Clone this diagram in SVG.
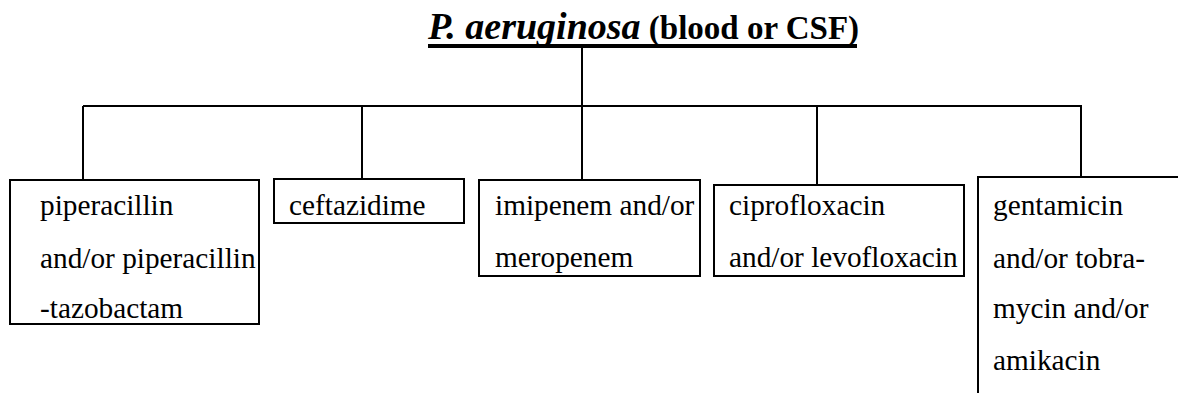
<svg xmlns="http://www.w3.org/2000/svg" width="1178" height="393" viewBox="0 0 1178 393">
<style>
.box{fill:none;stroke:#000;stroke-width:2}
.ln{fill:none;stroke:#000;stroke-width:2}
.t{font-family:"Liberation Serif","Times New Roman",serif;font-size:29.3px;fill:#000}
.ti{font-family:"Liberation Serif","Times New Roman",serif;font-weight:bold;fill:#000}
</style>
<rect width="1178" height="393" fill="#fff"/>
<g id="title">
<text class="ti" x="428" y="39"><tspan font-style="italic" font-size="38px">P. aeruginosa</tspan><tspan font-size="33px"> (blood or CSF)</tspan></text>
<line x1="428" y1="46" x2="857" y2="46" stroke="#000" stroke-width="4"/>
</g>
<g id="connectors">
<line class="ln" x1="582" y1="46" x2="582" y2="106"/>
<line class="ln" x1="83" y1="106" x2="1082" y2="106"/>
<line class="ln" x1="83" y1="106" x2="83" y2="180"/>
<line class="ln" x1="362" y1="106" x2="362" y2="179"/>
<line class="ln" x1="582" y1="106" x2="582" y2="180"/>
<line class="ln" x1="817" y1="106" x2="817" y2="185"/>
<line class="ln" x1="1081" y1="106" x2="1081" y2="177"/>
</g>
<g id="n1">
<rect class="box" x="10" y="180" width="249" height="144"/>
<text class="t" x="40" y="215">piperacillin</text>
<text class="t" x="40" y="268">and/or piperacillin</text>
<text class="t" x="40" y="318">-tazobactam</text>
</g>
<g id="n2">
<rect class="box" x="274" y="179" width="190" height="44"/>
<text class="t" x="289" y="215">ceftazidime</text>
</g>
<g id="n3">
<rect class="box" x="479" y="180" width="221" height="96"/>
<text class="t" x="495" y="215">imipenem and/or</text>
<text class="t" x="495" y="267">meropenem</text>
</g>
<g id="n4">
<rect class="box" x="714" y="185" width="250" height="91"/>
<text class="t" x="729" y="215">ciprofloxacin</text>
<text class="t" x="729" y="267">and/or levofloxacin</text>
</g>
<g id="n5">
<path class="box" d="M978,395 V177 H1180"/>
<text class="t" x="993" y="215">gentamicin</text>
<text class="t" x="993" y="268">and/or tobra-</text>
<text class="t" x="993" y="318">mycin and/or</text>
<text class="t" x="993" y="370">amikacin</text>
</g>
</svg>
